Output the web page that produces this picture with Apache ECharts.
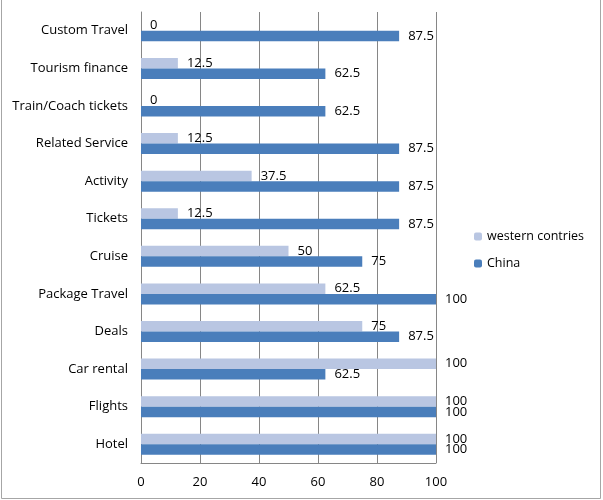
<!DOCTYPE html>
<html>
<head>
<meta charset="utf-8">
<script src="https://cdn.jsdelivr.net/npm/echarts@6/dist/echarts.min.js"></script>
<style>
  html, body { margin: 0; padding: 0; background: #fff; }
  #chart { width: 603px; height: 500px; }
</style>
</head>
<body>
<div id="chart"></div>
<script>
const categories = ["Hotel", "Flights", "Car rental", "Deals", "Package Travel", "Cruise",
  "Tickets", "Activity", "Related Service", "Train/Coach tickets", "Tourism finance", "Custom Travel"];
const western = [100, 100, 100, 75, 62.5, 50, 12.5, 37.5, 12.5, 0, 12.5, 0];
const china = [100, 100, 62.5, 87.5, 100, 75, 87.5, 87.5, 87.5, 62.5, 62.5, 87.5];
const xTicks = [0, 20, 40, 60, 80, 100];

const font = "Open Sans";

let myChart = echarts.init(document.getElementById("chart"));

let option = {
  backgroundColor: "#fff",
  textStyle: { fontFamily: font },
  animation: false,
  graphic: [
    {
      type: "polyline",
      shape: { points: [[1.5, 0], [1.5, 498.5], [600.5, 498.5], [600.5, 0]] },
      style: { stroke: "#a6a6a6", fill: null, lineWidth: 1 }
    }
  ],
  legend: {
    orient: "vertical",
    left: 469,
    top: 225,
    itemWidth: 8,
    itemHeight: 8,
    itemGap: 14,
    textStyle: { fontFamily: font, fontSize: 12.5, color: "#000" },
    data: ["western contries", "China"]
  },
  grid: { left: 141, right: 167, top: 12, bottom: 37 },
  xAxis: {
    type: "value",
    min: xTicks[0],
    max: xTicks[xTicks.length - 1],
    interval: 20,
    axisLine: { show: true, lineStyle: { color: "#868686" } },
    axisTick: { show: false },
    axisLabel: { color: "#000", fontSize: 13, fontFamily: font, margin: 13 },
    splitLine: { show: true, lineStyle: { color: "#868686" } }
  },
  yAxis: {
    type: "category",
    data: categories,
    axisLine: { show: true, lineStyle: { color: "#868686" } },
    axisTick: { show: false },
    axisLabel: { color: "#000", fontSize: 13, fontFamily: font, margin: 13 }
  },
  series: [
    {
      name: "western contries",
      type: "bar",
      data: western,
      barWidth: 10.5,
      barGap: "0%",
      itemStyle: { color: "#b9c6e2" },
      label: { show: true, position: "right", distance: 9, color: "#000", fontSize: 13, fontFamily: font }
    },
    {
      name: "China",
      type: "bar",
      data: china,
      barWidth: 10.5,
      barGap: "0%",
      itemStyle: { color: "#4a7ebb" },
      label: { show: true, position: "right", distance: 9, color: "#000", fontSize: 13, fontFamily: font }
    }
  ]
};

myChart.setOption(option);
</script>
</body>
</html>
